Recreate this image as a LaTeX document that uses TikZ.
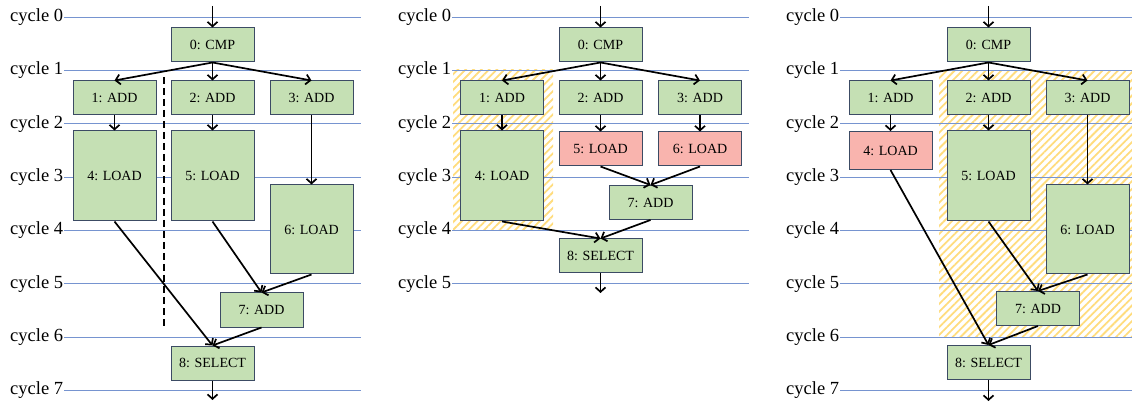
\documentclass[tikz,border=0pt]{standalone}
\usepackage{fontspec}
\setmainfont{Liberation Serif}
\usetikzlibrary{arrows.meta,patterns.meta}
\definecolor{boxgreen}{RGB}{197,224,180}
\definecolor{boxred}{RGB}{249,180,174}
\definecolor{boxborder}{RGB}{60,75,100}
\definecolor{cycline}{RGB}{118,148,208}
\definecolor{hatchcol}{RGB}{255,220,125}
\tikzset{
  opbox/.style={draw=boxborder, fill=boxgreen, line width=1pt, minimum width=83pt, minimum height=34pt, inner sep=0pt, font=\fontsize{14}{16}\selectfont},
  redbox/.style={opbox, fill=boxred},
  arr/.style={line width=1.7pt, -{Straight Barb[length=4.5pt,width=10pt,line width=1.7pt]}},
  cyc/.style={draw=cycline, line width=0.9pt},
  cyclabel/.style={anchor=west, inner sep=0pt, font=\fontsize{18.5}{20}\selectfont},
  hatch/.style={pattern={Lines[angle=45,distance=5.5pt,line width=1.8pt]}, pattern color=hatchcol},
  divider/.style={line width=1.7pt, dash pattern=on 7pt off 4pt}
}
\begin{document}
\begin{tikzpicture}[x=1pt,y=-1pt]
\useasboundingbox (0,0) rectangle (1132,403);
% hatched regions
\path[hatch] (453,69.5) rectangle (553,229.3);
\path[hatch] (939,70.3) rectangle (1132,336.3);
% cycle lines and labels
\foreach \i in {0,...,7} {
  \draw[cyc] (64,17+53.33*\i) -- (361,17+53.33*\i);
  \node[cyclabel] at (10,17+53.33*\i) {cycle \i};
  \draw[cyc] (840,17+53.33*\i) -- (1132,17+53.33*\i);
  \node[cyclabel] at (786,17+53.33*\i) {cycle \i};
}
\foreach \i in {0,...,5} {
  \draw[cyc] (452,17+53.33*\i) -- (749,17+53.33*\i);
  \node[cyclabel] at (398,17+53.33*\i) {cycle \i};
}
% ---------- panel 1 ----------
\node[opbox] (a0) at (212.5,45) {0: CMP};
\node[opbox] (a1) at (114.5,98) {1: ADD};
\node[opbox] (a2) at (212.5,98) {2: ADD};
\node[opbox] (a3) at (311.5,98) {3: ADD};
\node[opbox, minimum height=90pt] (a4) at (114.5,176) {4: LOAD};
\node[opbox, minimum height=90pt] (a5) at (212.5,176) {5: LOAD};
\node[opbox, minimum height=89pt] (a6) at (311.5,229.5) {6: LOAD};
\node[opbox] (a7) at (261.5,310) {7: ADD};
\node[opbox] (a8) at (212.5,363) {8: SELECT};
\coordinate (ain) at (212.5,6);
\coordinate (aout) at (212.5,400);
\coordinate (ad1) at (164,77);
\coordinate (ad2) at (164,326);
\draw[divider] (ad1) -- (ad2);
\draw[arr] (ain) -- (a0.north);
\foreach \t in {a1,a2,a3} \draw[arr] (a0.south) -- (\t.north);
\draw[arr] (a1.south) -- (a4.north);
\draw[arr] (a2.south) -- (a5.north);
\draw[arr] (a3.south) -- (a6.north);
\draw[arr] (a5.south) -- (a7.north);
\draw[arr] (a6.south) -- (a7.north);
\draw[arr] (a4.south) -- (a8.north);
\draw[arr] (a7.south) -- (a8.north);
\draw[arr] (a8.south) -- (aout);
% ---------- panel 2 ----------
\node[opbox] (b0) at (600.5,45) {0: CMP};
\node[opbox] (b1) at (502,98) {1: ADD};
\node[opbox] (b2) at (600.5,98) {2: ADD};
\node[opbox] (b3) at (700,98) {3: ADD};
\node[opbox, minimum height=90pt] (b4) at (502,176) {4: LOAD};
\node[redbox] (b5) at (600.5,149) {5: LOAD};
\node[redbox] (b6) at (700,149) {6: LOAD};
\node[opbox] (b7) at (650.5,202.5) {7: ADD};
\node[opbox] (b8) at (600.5,256) {8: SELECT};
\coordinate (bin) at (600.5,6);
\coordinate (bout) at (600.5,293);
\draw[arr] (bin) -- (b0.north);
\foreach \t in {b1,b2,b3} \draw[arr] (b0.south) -- (\t.north);
\draw[arr] (b1.south) -- (b4.north);
\draw[arr] (b2.south) -- (b5.north);
\draw[arr] (b3.south) -- (b6.north);
\draw[arr] (b5.south) -- (b7.north);
\draw[arr] (b6.south) -- (b7.north);
\draw[arr] (b4.south) -- (b8.north);
\draw[arr] (b7.south) -- (b8.north);
\draw[arr] (b8.south) -- (bout);
% ---------- panel 3 ----------
\node[opbox] (c0) at (988.5,45) {0: CMP};
\node[opbox] (c1) at (890.5,98) {1: ADD};
\node[opbox] (c2) at (988.5,98) {2: ADD};
\node[opbox] (c3) at (1087.5,98) {3: ADD};
\node[redbox, minimum height=38pt] (c4) at (890.5,150.5) {4: LOAD};
\node[opbox, minimum height=90pt] (c5) at (988.5,176) {5: LOAD};
\node[opbox, minimum height=89pt] (c6) at (1087.5,229.5) {6: LOAD};
\node[opbox] (c7) at (1038,308.5) {7: ADD};
\node[opbox] (c8) at (988.5,362.5) {8: SELECT};
\coordinate (cin) at (988.5,6);
\coordinate (cout) at (988.5,401);
\draw[arr] (cin) -- (c0.north);
\foreach \t in {c1,c2,c3} \draw[arr] (c0.south) -- (\t.north);
\draw[arr] (c1.south) -- (c4.north);
\draw[arr] (c2.south) -- (c5.north);
\draw[arr] (c3.south) -- (c6.north);
\draw[arr] (c5.south) -- (c7.north);
\draw[arr] (c6.south) -- (c7.north);
\draw[arr] (c4.south) -- (c8.north);
\draw[arr] (c7.south) -- (c8.north);
\draw[arr] (c8.south) -- (cout);
\end{tikzpicture}
\end{document}
